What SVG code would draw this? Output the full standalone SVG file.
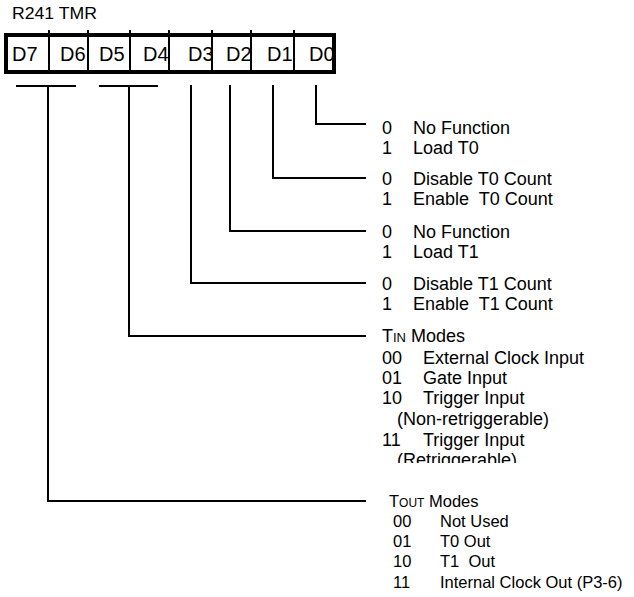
<svg xmlns="http://www.w3.org/2000/svg" width="634" height="597" viewBox="0 0 634 597">
<style>
text { font-family: "Liberation Sans", Arial, sans-serif; fill: #000; white-space: pre; }
.title { font-size: 16px; }
.cell { font-size: 20px; }
.t { font-size: 18px; }
.s { font-size: 16.5px; }
.sc { font-size: 13px; }
.sc2 { font-size: 12px; }
.wire { fill: none; stroke: #000; stroke-width: 2; stroke-linecap: square; }
.div { stroke: #000; stroke-width: 2; }
</style>
<defs>
<clipPath id="clipRet"><rect x="380" y="440" width="200" height="23"/></clipPath>
</defs>
<rect width="634" height="597" fill="#fff"/>
<text class="title" x="12" y="19" textLength="85" lengthAdjust="spacingAndGlyphs">R241 TMR</text>
<g id="register">
<rect x="6" y="35" width="328" height="37" fill="#fff" stroke="#000" stroke-width="4"/>
<line class="div" x1="49" y1="30" x2="49" y2="72"/>
<line class="div" x1="88" y1="30" x2="88" y2="72"/>
<line class="div" x1="130" y1="30" x2="130" y2="72"/>
<line class="div" x1="169" y1="30" x2="169" y2="72"/>
<line class="div" x1="212" y1="30" x2="212" y2="72"/>
<line class="div" x1="251" y1="30" x2="251" y2="72"/>
<line class="div" x1="294" y1="30" x2="294" y2="72"/>
<text class="cell" x="12" y="61">D7</text>
<text class="cell" x="60" y="61">D6</text>
<text class="cell" x="99" y="61">D5</text>
<text class="cell" x="143" y="61">D4</text>
<text class="cell" x="188" y="61">D3</text>
<text class="cell" x="226" y="61">D2</text>
<text class="cell" x="267" y="61">D1</text>
<text class="cell" x="309" y="61">D0</text>
</g>
<g id="connectors">
<path class="wire" d="M17 86 H75"/>
<path class="wire" d="M48 86 V501 H365"/>
<path class="wire" d="M100 86 H157"/>
<path class="wire" d="M129 86 V336 H365"/>
<path class="wire" d="M191 86 V283 H365"/>
<path class="wire" d="M230 86 V231 H365"/>
<path class="wire" d="M273 86 V178 H365"/>
<path class="wire" d="M316 86 V124 H365"/>
</g>
<g id="d0">
<text class="t" x="382" y="134">0</text><text class="t" x="413" y="134">No Function</text>
<text class="t" x="382" y="154">1</text><text class="t" x="413" y="154">Load T0</text>
</g>
<g id="d1">
<text class="t" x="382" y="185">0</text><text class="t" x="413" y="185">Disable T0 Count</text>
<text class="t" x="382" y="205">1</text><text class="t" x="413" y="205">Enable  T0 Count</text>
</g>
<g id="d2">
<text class="t" x="382" y="238">0</text><text class="t" x="413" y="238">No Function</text>
<text class="t" x="382" y="258">1</text><text class="t" x="413" y="258">Load T1</text>
</g>
<g id="d3">
<text class="t" x="382" y="290">0</text><text class="t" x="413" y="290">Disable T1 Count</text>
<text class="t" x="382" y="310">1</text><text class="t" x="413" y="310">Enable  T1 Count</text>
</g>
<g id="tin">
<text class="t" x="382" y="342">T<tspan class="sc">IN</tspan> Modes</text>
<text class="t" x="382" y="364">00</text><text class="t" x="423" y="364">External Clock Input</text>
<text class="t" x="382" y="384">01</text><text class="t" x="423" y="384">Gate Input</text>
<text class="t" x="382" y="404">10</text><text class="t" x="423" y="404">Trigger Input</text>
<text class="t" x="397" y="425">(Non-retriggerable)</text>
<text class="t" x="382" y="446">11</text><text class="t" x="423" y="446">Trigger Input</text>
<text class="t" x="397" y="466" clip-path="url(#clipRet)">(Retriggerable)</text>
</g>
<g id="tout">
<text class="s" x="389" y="507">T<tspan class="sc2">OUT</tspan> Modes</text>
<text class="s" x="393" y="527">00</text><text class="s" x="440" y="527">Not Used</text>
<text class="s" x="393" y="547">01</text><text class="s" x="440" y="547">T0 Out</text>
<text class="s" x="393" y="567">10</text><text class="s" x="440" y="567">T1  Out</text>
<text class="s" x="393" y="588">11</text><text class="s" x="440" y="588">Internal Clock Out (P3-6)</text>
</g>
</svg>
